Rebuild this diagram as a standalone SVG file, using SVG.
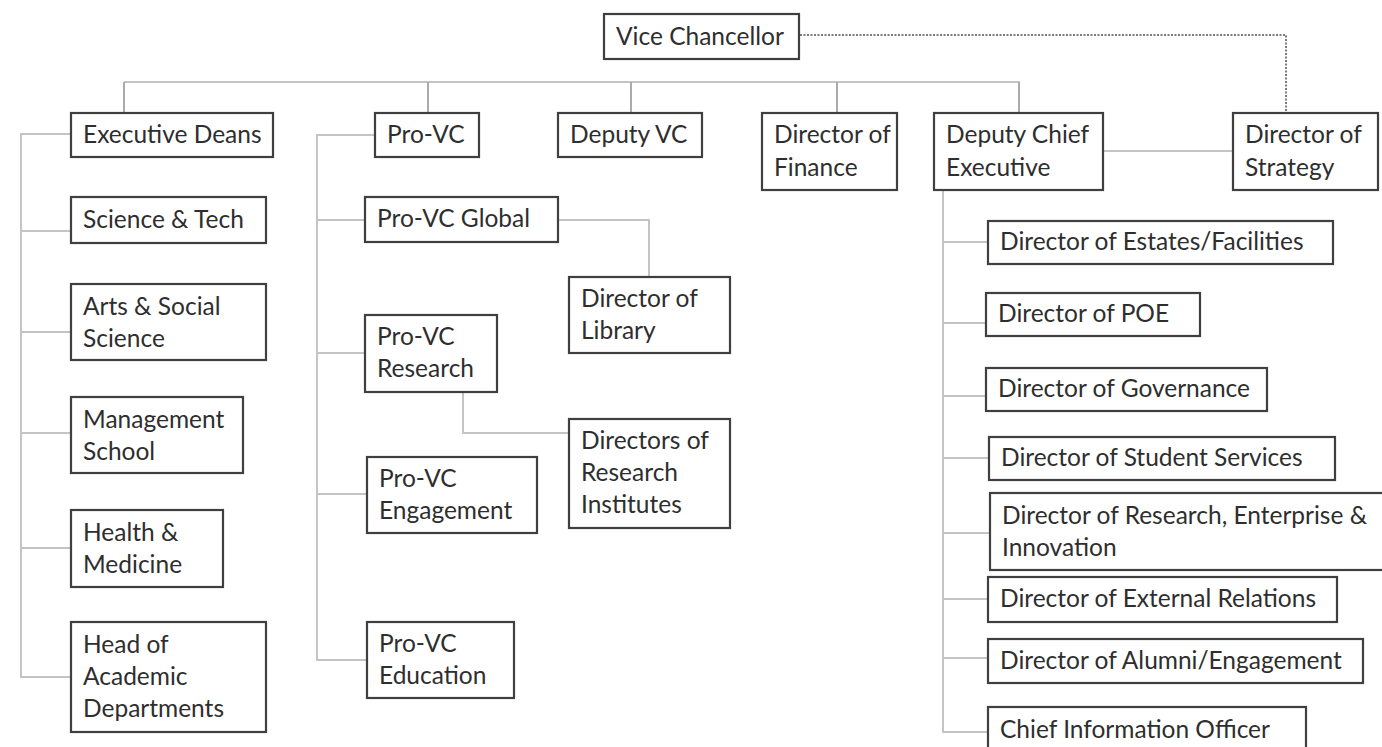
<svg xmlns="http://www.w3.org/2000/svg" width="1382" height="747" viewBox="0 0 1382 747">
  <style>
    .box { fill: #ffffff; stroke: #3f3f3f; stroke-width: 2.2; }
    .lbl { font-family: Lato, "Open Sans", "Liberation Sans", sans-serif; font-size: 24.5px; fill: #2e2e2e; }
    .link { fill: none; stroke: #c4c4c4; stroke-width: 2; }
    .drop { fill: none; stroke: #ababab; stroke-width: 2; }
    .dotted { fill: none; stroke: #7a7a7a; stroke-width: 2; stroke-dasharray: 2 1.5; }
  </style>
  <rect width="1382" height="747" fill="#ffffff"/>

  <!-- connectors -->
  <g id="connectors">
    <!-- top bus and drops -->
    <path class="link" d="M124 82 H1020"/>
    <path class="drop" d="M124 82 V113 M428 82 V113 M631 82 V113 M837 82 V113 M1019 82 V113"/>
    <!-- dotted reporting line to strategy -->
    <path class="dotted" d="M800 35 H1286 V112"/>
    <!-- deputy chief executive to strategy -->
    <path class="link" d="M1103 151 H1233"/>
    <!-- executive deans spine -->
    <path class="link" d="M71 134 H21 V677 H71 M21 231 H71 M21 332 H71 M21 433 H71 M21 548 H71"/>
    <!-- pro-vc spine -->
    <path class="link" d="M375 135 H317 V660 H367 M317 220 H365 M317 353 H365 M317 494 H367"/>
    <path class="link" d="M558 220 H649 V277"/>
    <path class="link" d="M463 392 V433 H569"/>
    <!-- deputy chief executive spine -->
    <path class="link" d="M943 190 V732 H988 M943 242 H988 M943 323 H986 M943 396 H986 M943 458 H989 M943 533 H990 M943 599 H988 M943 658 H988"/>
  </g>

  <g id="vice-chancellor">
    <rect class="box" x="604" y="14" width="195" height="45"/>
    <text class="lbl" x="616" y="45">Vice Chancellor</text>
  </g>

  <g id="executive-deans">
    <rect class="box" x="71" y="113" width="202" height="44"/>
    <text class="lbl" x="83" y="143">Executive Deans</text>
  </g>
  <g id="pro-vc">
    <rect class="box" x="375" y="113" width="104" height="44"/>
    <text class="lbl" x="387" y="143">Pro-VC</text>
  </g>
  <g id="deputy-vc">
    <rect class="box" x="558" y="113" width="144" height="44"/>
    <text class="lbl" x="570" y="143">Deputy VC</text>
  </g>
  <g id="director-finance">
    <rect class="box" x="762" y="113" width="135" height="77"/>
    <text class="lbl" x="774" y="143">Director of</text>
    <text class="lbl" x="774" y="176">Finance</text>
  </g>
  <g id="deputy-chief-executive">
    <rect class="box" x="934" y="113" width="169" height="77"/>
    <text class="lbl" x="946" y="143">Deputy Chief</text>
    <text class="lbl" x="946" y="176">Executive</text>
  </g>
  <g id="director-strategy">
    <rect class="box" x="1233" y="113" width="145" height="77"/>
    <text class="lbl" x="1245" y="143">Director of</text>
    <text class="lbl" x="1245" y="176">Strategy</text>
  </g>

  <!-- faculties -->
  <g id="science-tech">
    <rect class="box" x="71" y="197" width="195" height="46"/>
    <text class="lbl" x="83" y="228">Science &amp; Tech</text>
  </g>
  <g id="arts-social-science">
    <rect class="box" x="71" y="284" width="195" height="76"/>
    <text class="lbl" x="83" y="315">Arts &amp; Social</text>
    <text class="lbl" x="83" y="347">Science</text>
  </g>
  <g id="management-school">
    <rect class="box" x="71" y="397" width="172" height="76"/>
    <text class="lbl" x="83" y="428">Management</text>
    <text class="lbl" x="83" y="460">School</text>
  </g>
  <g id="health-medicine">
    <rect class="box" x="71" y="510" width="152" height="77"/>
    <text class="lbl" x="83" y="541">Health &amp;</text>
    <text class="lbl" x="83" y="573">Medicine</text>
  </g>
  <g id="head-academic-departments">
    <rect class="box" x="71" y="622" width="195" height="110"/>
    <text class="lbl" x="83" y="653">Head of</text>
    <text class="lbl" x="83" y="685">Academic</text>
    <text class="lbl" x="83" y="717">Departments</text>
  </g>

  <!-- pro-vice-chancellors -->
  <g id="pro-vc-global">
    <rect class="box" x="365" y="197" width="193" height="45"/>
    <text class="lbl" x="377" y="227">Pro-VC Global</text>
  </g>
  <g id="director-library">
    <rect class="box" x="569" y="277" width="161" height="76"/>
    <text class="lbl" x="581" y="307">Director of</text>
    <text class="lbl" x="581" y="339">Library</text>
  </g>
  <g id="pro-vc-research">
    <rect class="box" x="365" y="315" width="132" height="77"/>
    <text class="lbl" x="377" y="345">Pro-VC</text>
    <text class="lbl" x="377" y="377">Research</text>
  </g>
  <g id="directors-research-institutes">
    <rect class="box" x="569" y="419" width="161" height="109"/>
    <text class="lbl" x="581" y="449">Directors of</text>
    <text class="lbl" x="581" y="481">Research</text>
    <text class="lbl" x="581" y="513">Institutes</text>
  </g>
  <g id="pro-vc-engagement">
    <rect class="box" x="367" y="457" width="170" height="76"/>
    <text class="lbl" x="379" y="487">Pro-VC</text>
    <text class="lbl" x="379" y="519">Engagement</text>
  </g>
  <g id="pro-vc-education">
    <rect class="box" x="367" y="622" width="147" height="76"/>
    <text class="lbl" x="379" y="652">Pro-VC</text>
    <text class="lbl" x="379" y="684">Education</text>
  </g>

  <!-- professional services directors -->
  <g id="director-estates">
    <rect class="box" x="988" y="221" width="345" height="43"/>
    <text class="lbl" x="1000" y="250">Director of Estates/Facilities</text>
  </g>
  <g id="director-poe">
    <rect class="box" x="986" y="293" width="214" height="43"/>
    <text class="lbl" x="998" y="322">Director of POE</text>
  </g>
  <g id="director-governance">
    <rect class="box" x="986" y="368" width="281" height="43"/>
    <text class="lbl" x="998" y="397">Director of Governance</text>
  </g>
  <g id="director-student-services">
    <rect class="box" x="989" y="437" width="346" height="43"/>
    <text class="lbl" x="1001" y="466">Director of Student Services</text>
  </g>
  <g id="director-research-enterprise">
    <rect class="box" x="990" y="493" width="400" height="77"/>
    <text class="lbl" x="1002" y="524">Director of Research, Enterprise &amp;</text>
    <text class="lbl" x="1002" y="556">Innovation</text>
  </g>
  <g id="director-external-relations">
    <rect class="box" x="988" y="577" width="349" height="45"/>
    <text class="lbl" x="1000" y="607">Director of External Relations</text>
  </g>
  <g id="director-alumni">
    <rect class="box" x="988" y="639" width="375" height="44"/>
    <text class="lbl" x="1000" y="669">Director of Alumni/Engagement</text>
  </g>
  <g id="chief-information-officer">
    <rect class="box" x="988" y="707" width="318" height="50"/>
    <text class="lbl" x="1000" y="738">Chief Information Officer</text>
  </g>
</svg>
